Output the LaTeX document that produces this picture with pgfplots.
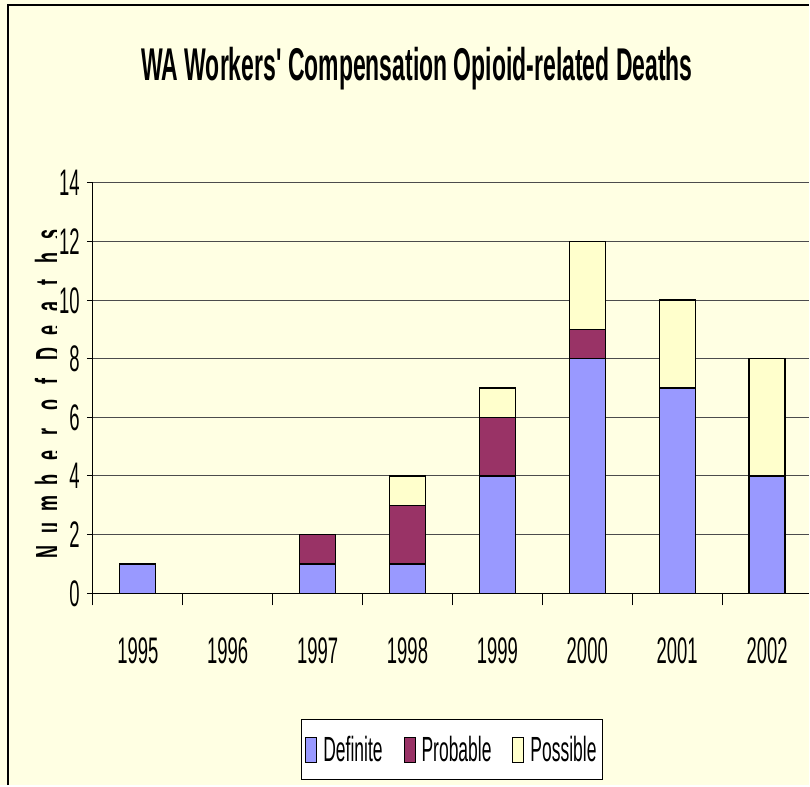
\documentclass[border=0pt]{standalone}
\usepackage{fontspec}
\setmainfont{Liberation Sans}[FakeStretch=0.5, Ligatures=TeXOff]
\usepackage{pgfplots}
\pgfplotsset{compat=1.18}
\definecolor{bg}{HTML}{FFFFE3}
\definecolor{cdef}{HTML}{9999FF}
\definecolor{cprob}{HTML}{993366}
\definecolor{cposs}{HTML}{FFFFCC}
\newcommand\lb[1]{\makebox[24pt]{#1}}
\begin{document}
\begin{tikzpicture}[x=1pt,y=1pt]
\fill[bg] (0,0) rectangle (810,786);
\draw[black, line width=2pt] (8,0) -- (8,781) -- (810,781);
\node[anchor=base, inner sep=0pt, font=\bfseries\fontsize{46}{50}\selectfont] at (417.5,705.3) {WA Workers' Compensation Opioid-related Deaths};
\begin{scope}
\clip (0,0) rectangle (57,786);
\node[rotate=90, anchor=base, inner sep=0pt, font=\bfseries\fontsize{36}{40}\selectfont] at (61,392.5) {\lb{N}\lb{u}\lb{m}\lb{b}\lb{e}\lb{r}\hspace{3pt}\lb{o}\lb{f}\hspace{3pt}\lb{D}\lb{e}\lb{a}\lb{t}\lb{h}\lb{s}};
\end{scope}
\begin{axis}[
  at={(93pt,192pt)}, anchor=south west, scale only axis,
  width=717pt, height=411pt,
  xmin=-0.5, xmax=7.4667, ymin=0, ymax=14,
  ybar stacked, bar width=36pt,
  axis x line*=bottom, axis y line*=left,
  axis line style={black, line width=1pt, -},
  xtick={0,1,2,3,4,5,6,7},
  xticklabels={1995,1996,1997,1998,1999,2000,2001,2002},
  minor xtick={-0.5,0.5,1.5,2.5,3.5,4.5,5.5,6.5},
  ytick={0,2,4,6,8,10,12,14},
  ymajorgrids, grid style={black!70, line width=1pt},
  tick align=outside,
  major tick length=6pt,
  minor tick length=12pt,
  major x tick style={draw=none},
  minor x tick style={black, line width=1pt},
  y tick style={black, line width=1pt},
  /pgf/number format/assume math mode=true,
  ticklabel style={font=\fontsize{37}{40}\selectfont, inner sep=0pt},
  xticklabel style={anchor=base, yshift=-64pt},
  yticklabel style={anchor=base east, xshift=-7pt, yshift=-13pt},
  legend style={at={(0.5014,-0.3808)}, anchor=center, legend columns=-1,
    draw=black, line width=1pt, fill=white,
    font=\fontsize{35}{38}\selectfont, inner xsep=4pt, inner ysep=14.5pt,
    /tikz/every even column/.append style={column sep=19pt},
    /tikz/every odd column/.append style={column sep=4pt}},
  legend image code/.code={\draw[#1, draw=black, line width=1pt] (0pt,-12.5pt) rectangle (11pt,12.5pt);},
  every axis plot/.append style={draw=black, line width=1.2pt},
]
\addplot[fill=cdef] coordinates {(0,1) (1,0) (2,1) (3,1) (4,4) (5,8) (6,7) (7,4)};
\addplot[fill=cprob] coordinates {(0,0) (1,0) (2,1) (3,2) (4,2) (5,1) (6,0) (7,0)};
\addplot[fill=cposs] coordinates {(0,0) (1,0) (2,0) (3,1) (4,1) (5,3) (6,3) (7,4)};
\legend{Definite,Probable,Possible}
\end{axis}
\end{tikzpicture}
\end{document}
